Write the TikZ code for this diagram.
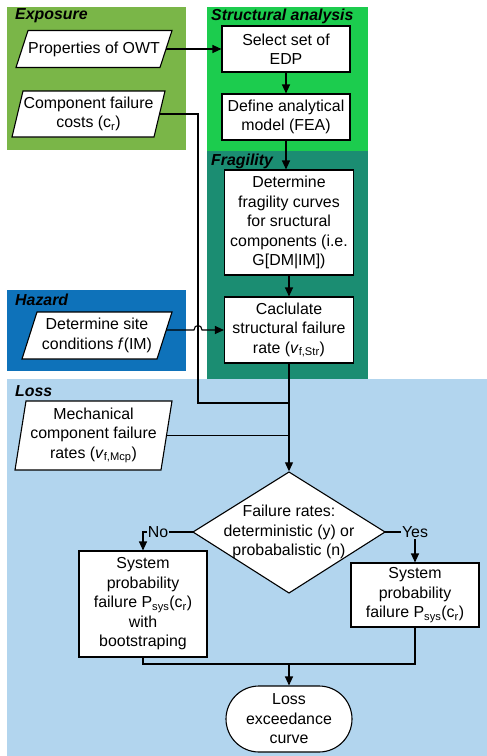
\documentclass[tikz,border=0pt]{standalone}
\usepackage{fontspec}
\setmainfont{Liberation Sans}
\usetikzlibrary{arrows.meta,shapes.geometric,shapes.misc}
\definecolor{expo}{RGB}{122,182,72}
\definecolor{struc}{RGB}{28,204,78}
\definecolor{fragc}{RGB}{27,141,114}
\definecolor{haz}{RGB}{14,114,186}
\definecolor{lossc}{RGB}{178,213,238}
% #1 name, #2 cx, #3 cy, #4 mid width, #5 height, #6 half slant, #7 text
\newcommand\paranode[7]{%
  \draw[para] (#2-#4/2+#6,#3-#5/2) -- (#2+#4/2+#6,#3-#5/2) -- (#2+#4/2-#6,#3+#5/2) -- (#2-#4/2-#6,#3+#5/2) -- cycle;
  \node[ptext, minimum width=#4pt, minimum height=#5pt] (#1) at (#2,#3) {#7};}
\begin{document}
\begin{tikzpicture}[x=1pt,y=-1pt,
  font=\fontsize{15.9}{19.5}\selectfont,
  box/.style={draw=black, fill=white, line width=1.1pt, align=center, inner sep=2pt},
  ptext/.style={align=center, inner sep=0pt},
  para/.style={draw=black, fill=white, line width=1.1pt},
  conn/.style={line width=1.1pt},
  arr/.style={conn, -{Triangle[length=9pt,width=8pt]}},
  title/.style={font=\fontsize{15.9}{19}\selectfont\bfseries\itshape, anchor=west, inner sep=0pt},
  lbl/.style={fill=lossc, inner sep=1pt}]
\useasboundingbox (0,0) rectangle (487,756);
% panels
\fill[expo] (7,7) rectangle (186,150);
\fill[struc] (207,7) rectangle (368,151);
\fill[fragc] (207,151) rectangle (368,379);
\fill[haz] (7,290) rectangle (186,371);
\fill[lossc] (7,379) rectangle (487,756);
\node[title] (t1) at (15,16) {Exposure};
\node[title] (t2) at (211,16) {Structural analysis};
\node[title] (t3) at (211,161) {Fragility};
\node[title] (t4) at (15,300) {Hazard};
\node[title] (t5) at (15,391) {Loss};
% parallelograms
\paranode{props}{94}{49}{144}{37}{6}{Properties of OWT}
\paranode{costs}{88.5}{114}{142}{46}{5.5}{Component failure\\costs (c\textsubscript{r})}
\paranode{site}{97}{335.5}{135}{47}{7.5}{Determine site\\conditions \textit{f}(IM)}
\paranode{mech}{93.5}{435.5}{146}{69}{5.5}{Mechanical\\component failure\\rates (\textit{v}\textsubscript{f,Mcp})}
% boxes
\node[box, minimum width=128pt, minimum height=46pt] (edp) at (286,49) {Select set of\\EDP};
\node[box, minimum width=128pt, minimum height=46pt] (fea) at (286,117) {Define analytical\\model (FEA)};
\node[box, minimum width=129pt, minimum height=105pt] (frag) at (289,222.5) {Determine\\fragility curves\\for sructural\\components (i.e.\\G[DM|IM])};
\node[box, minimum width=129pt, minimum height=66pt] (calc) at (289,330) {Caclulate\\structural failure\\rate (\textit{v}\textsubscript{f,Str})};
% diamond
\draw[para] (289,472) -- (385,532) -- (289,593) -- (193,532) -- cycle;
\node[ptext, minimum width=192pt, minimum height=121pt] (dec) at (289,532) {Failure rates:\\deterministic (y) or\\probabalistic (n)};
\node[box, minimum width=128pt, minimum height=106pt] (nobox) at (143,604) {System\\probability\\failure P\textsubscript{sys}(c\textsubscript{r})\\with\\bootstraping};
\node[box, minimum width=128pt, minimum height=64pt] (yesbox) at (415,595) {System\\probability\\failure P\textsubscript{sys}(c\textsubscript{r})};
\node[box, rounded rectangle, minimum width=130pt, minimum height=66pt] (term) at (289,719) {Loss\\exceedance\\curve};
% connectors
\draw[arr] (props.east) -- (edp.west);
\draw[arr] (edp.south) -- (fea.north);
\draw[arr] (fea.south) -- (fea.south |- frag.north);
\draw[arr] (frag.south) -- (calc.north);
\coordinate (c1) at (198,403);
\draw[conn] (costs.east) -| (c1) -- (calc.south |- c1);
\coordinate (h1) at (194,330);
\coordinate (h2) at (202,330);
\draw[arr] ([xshift=1.75pt,yshift=5.5pt]site.east) -- (h1) .. controls (194,324) and (202,324) .. (h2) -- (calc.west);
\draw[conn] (mech.east) -- (calc.south |- mech.east);
\draw[arr] (calc.south) -- (dec.north);
\coordinate (nc) at (143,532);
\draw[arr] (dec.west) -- (nc) -- (nobox.north);
\node[lbl] (nol) at (158,532) {No};
\draw[arr] (dec.east) -| (yesbox.north);
\node[lbl] (yesl) at (415,532) {Yes};
\coordinate (m) at (289,664);
\draw[conn] (nobox.south) |- (m) -| (yesbox.south);
\draw[arr] (m) -- (term.north);
\end{tikzpicture}
\end{document}
